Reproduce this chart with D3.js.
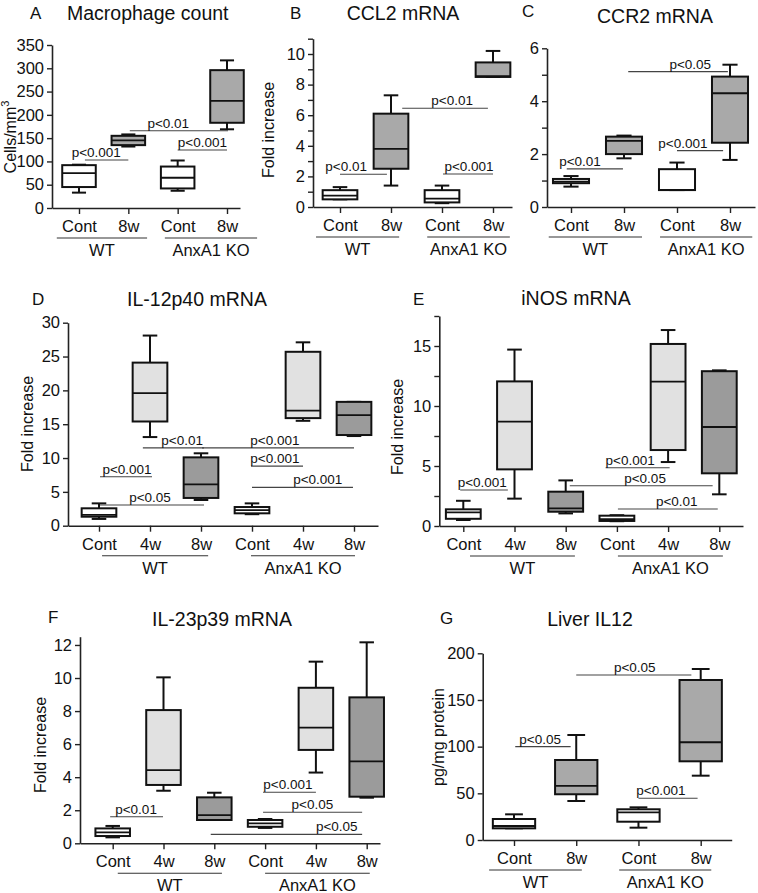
<!DOCTYPE html>
<html><head><meta charset="utf-8">
<script src="https://cdn.jsdelivr.net/npm/d3@7"></script>
<style>
body{margin:0;background:#fff}
svg{display:block}
text{font-family:"Liberation Sans",Arial,Helvetica,sans-serif;fill:#111}
</style>
</head><body>
<svg id="chart" width="758" height="893"></svg>
<script>
// ---------- categories ----------
const cats4 = ["Cont", "8w", "Cont", "8w"];
const cats6 = ["Cont", "4w", "8w", "Cont", "4w", "8w"];
const genotypes = ["WT", "AnxA1 KO"];

// ---------- box values: [min, q1, median, q3, max] ----------
const macrophageCount = [[33,45,75,92,93],[132,135,145,155,158],[37,42,65,89,102],[169,183,230,296,317]];
const ccl2 = [[0.5,0.5,0.75,1.1,1.3],[1.4,2.5,3.8,6.1,7.3],[0.25,0.3,0.55,1.1,1.4],[8.5,8.5,8.55,9.45,10.2]];
const ccr2 = [[0.77,0.9,0.96,1.06,1.17],[1.84,2.0,2.5,2.66,2.7],[0.64,0.64,0.65,1.43,1.68],[1.78,2.43,4.3,4.93,5.38]];
const il12p40 = [[1.0,1.33,1.6,2.57,3.3],[13.1,15.4,19.6,24.1,28.1],[3.8,4.1,6.1,10.1,10.7],[1.7,1.83,2.3,2.76,3.3],[15.5,15.9,17.0,25.7,27.1],[13.25,13.4,16.35,18.3,18.3]];
const inos = [[0.5,0.6,1.14,1.39,2.1],[2.28,4.72,8.7,12.05,14.7],[1.05,1.19,1.47,2.86,3.8],[0.4,0.42,0.58,0.86,0.9],[5.33,6.33,12.03,15.17,16.33],[2.64,4.39,8.25,12.9,12.97]];
const il23p39 = [[0.36,0.44,0.66,0.9,1.05],[3.18,3.53,4.43,8.06,10.04],[1.41,1.41,1.71,2.78,3.06],[0.93,1.0,1.21,1.41,1.47],[4.28,5.65,7.0,9.41,10.99],[2.76,2.82,4.96,8.83,12.16]];
const liverIL12 = [[12.5,12.5,15,22.5,27.5],[41.8,49,58,85.7,112.5],[13.2,19.6,29.7,32.9,35],[68.9,84.3,104.7,171.4,183.2]];

// ---------- significance annotations: [fromCat, toCat, value, label, textCat] ----------
const sigA = [[0.12,1.0,103,"p<0.001",0.35],[1.03,3.02,166,"p<0.01",1.81],[2.0,3.0,124.5,"p<0.001",2.5]];
const sigB = [[0,0.92,2.14,"p<0.01",0.12],[1.22,2.9,6.45,"p<0.01",2.2],[2.02,3.0,2.16,"p<0.001",2.53]];
const sigC = [[-0.08,0.98,1.44,"p<0.01",0.17],[1.08,2.96,5.12,"p<0.05",2.25],[2.0,2.87,2.13,"p<0.001",2.11]];
const sigD = [[0.02,1.04,7.24,"p<0.001",0.55],[0.02,2.06,3.06,"p<0.05",1.0],[0.86,2.06,11.5,"p<0.01",1.63],[2.02,5.0,11.5,"p<0.001",3.45],[2.98,4.0,8.8,"p<0.001",3.45],[3.0,4.98,5.67,"p<0.001",4.29]];
const sigE = [[-0.06,0.87,3.0,"p<0.001",0.37],[2.78,4.03,4.86,"p<0.001",3.26],[2.08,4.87,3.36,"p<0.05",3.55],[3.02,4.97,1.42,"p<0.01",4.17]];
const sigF = [[-0.05,0.99,1.61,"p<0.01",0.46],[2.96,4.0,3.09,"p<0.001",3.45],[2.96,4.91,1.88,"p<0.05",3.93],[1.93,4.91,0.54,"p<0.05",4.41]];
const sigG = [[0.02,0.91,100,"p<0.05",0.42],[1.0,2.85,176.8,"p<0.05",1.94],[2.0,2.95,44.7,"p<0.001",2.36]];

// ---------- tick values ----------
const ticksA = [0,50,100,150,200,250,300,350];
const ticksB = [0,2,4,6,8,10], minorB = [1,3,5,7,9,11];
const ticksC = [0,2,4,6], minorC = [1,3,5];
const ticksD = [0,5,10,15,20,25,30];
const ticksE = [0,5,10,15], minorE = [2.5,7.5,12.5,17.5];
const ticksF = [0,2,4,6,8,10,12];
const ticksG = [0,50,100,150,200];

// ---------- styles ----------
const fill4 = ["#ffffff","#a9a9a9","#ffffff","#a9a9a9"];
const fill6 = ["#ffffff","#e1e1e1","#9b9b9b","#ffffff","#e1e1e1","#9b9b9b"];

const svg = d3.select("#chart");
const FONT = '"Liberation Sans",Arial,Helvetica,sans-serif';

const panels = [
  {letter:"A", title:"Macrophage count", data:macrophageCount, cats:cats4, fills:fill4, sig:sigA, ticks:ticksA, minor:[],
   yMax:350, axisX:52, xEnd:240, y0:208, yTop:45, cx0:79, cx1:227, groups:[[-0.45,1.38],[1.74,3.61]],
   lx:30, ly:19, tx:67, tAnchor:"start", ty:20, ylab:"Cells/mm", sup:"3", ylx:10, yly:137},
  {letter:"B", title:"CCL2 mRNA", data:ccl2, cats:cats4, fills:fill4, sig:sigB, ticks:ticksB, minor:minorB,
   yMax:11, axisX:313, xEnd:512, y0:207, yTop:38.7, cx0:340, cx1:493, groups:[[-0.47,1.16],[1.71,3.33]],
   lx:290, ly:19, tx:403, tAnchor:"middle", ty:20, ylab:"Fold increase", ylx:268, yly:130},
  {letter:"C", title:"CCR2 mRNA", data:ccr2, cats:cats4, fills:fill4, sig:sigC, ticks:ticksC, minor:minorC,
   yMax:6, axisX:547, xEnd:755, y0:207, yTop:48.3, cx0:571, cx1:730, groups:[[-0.42,1.34],[1.68,3.42]],
   lx:522, ly:17, tx:655, tAnchor:"middle", ty:23, ylab:null},
  {letter:"D", title:"IL-12p40 mRNA", data:il12p40, cats:cats6, fills:fill6, sig:sigD, ticks:ticksD, minor:[],
   yMax:30, axisX:68, xEnd:378, y0:525.7, yTop:322.7, cx0:99, cx1:354, groups:[[0.06,2.14],[2.98,5.02]],
   lx:32, ly:305, tx:197, tAnchor:"middle", ty:306, ylab:"Fold increase", ylx:27, yly:424},
  {letter:"E", title:"iNOS mRNA", data:inos, cats:cats6, fills:fill6, sig:sigE, ticks:ticksE, minor:minorE,
   yMax:17.5, axisX:439.3, xEnd:743, y0:526, yTop:316, cx0:463.3, cx1:719.3, groups:[[0.13,2.18],[3.02,5.07]],
   lx:413, ly:305, tx:576, tAnchor:"middle", ty:305, ylab:"Fold increase", ylx:397, yly:427},
  {letter:"F", title:"IL-23p39 mRNA", data:il23p39, cats:cats6, fills:fill6, sig:sigF, ticks:ticksF, minor:[],
   yMax:12.5, axisX:80, xEnd:380, y0:843.3, yTop:636.7, cx0:112.7, cx1:366.7, groups:[[0.1,2.15],[3.0,5.06]],
   lx:48, ly:623, tx:222, tAnchor:"middle", ty:626, ylab:"Fold increase", ylx:40, yly:745},
  {letter:"G", title:"Liver IL12", data:liverIL12, cats:cats4, fills:fill4, sig:sigG, ticks:ticksG, minor:[],
   yMax:200, axisX:482.7, xEnd:731.7, y0:840, yTop:653.3, cx0:514, cx1:700.7, groups:[[-0.4,1.09],[1.69,3.17]],
   lx:440, ly:624, tx:590, tAnchor:"middle", ty:626, ylab:"pg/mg protein", ylx:438, yly:737}
];

function drawPanel(p) {
  const g = svg.append("g");
  const y = d3.scaleLinear().domain([0, p.yMax]).range([p.y0, p.yTop]);
  const x = d3.scaleLinear().domain([0, p.cats.length - 1]).range([p.cx0, p.cx1]);
  const step = x(1) - x(0);
  const bw = step * 0.68;
  const capW = bw * 0.42;

  // Y axis
  const allTicks = p.ticks.concat(p.minor).sort((a, b) => a - b);
  const yAxis = d3.axisLeft(y).tickValues(allTicks).tickSize(5).tickSizeOuter(0).tickPadding(3)
    .tickFormat(d => p.ticks.includes(d) ? d3.format("d")(d) : "");
  const ya = g.append("g").attr("transform", `translate(${p.axisX},0)`).call(yAxis);
  ya.select(".domain").attr("stroke", "#222").attr("stroke-width", 1.6);
  ya.selectAll(".tick line").attr("stroke", "#222").attr("stroke-width", 1.4);
  ya.selectAll(".tick text").attr("font-family", FONT).attr("font-size", 16.5).attr("fill", "#111");

  // X axis
  const xa = d3.scaleLinear().domain([x.invert(p.axisX), x.invert(p.xEnd)]).range([p.axisX, p.xEnd]);
  const xAxis = d3.axisBottom(xa).tickValues(d3.range(p.cats.length)).tickSize(6).tickSizeOuter(0)
    .tickPadding(7).tickFormat(i => p.cats[i]);
  const xg = g.append("g").attr("transform", `translate(0,${p.y0})`).call(xAxis);
  xg.select(".domain").attr("stroke", "#222").attr("stroke-width", 1.6);
  xg.selectAll(".tick line").attr("stroke", "#222").attr("stroke-width", 1.4);
  xg.selectAll(".tick text").attr("font-family", FONT).attr("font-size", 16.5).attr("fill", "#111")
    .attr("dy", null).attr("y", 24);

  // group lines and labels
  p.groups.forEach((gr, k) => {
    g.append("line").attr("x1", x(gr[0])).attr("x2", x(gr[1]))
      .attr("y1", p.y0 + 30).attr("y2", p.y0 + 30).attr("stroke", "#333").attr("stroke-width", 1.1);
    g.append("text").attr("x", (x(gr[0]) + x(gr[1])) / 2).attr("y", p.y0 + 48)
      .attr("text-anchor", "middle").attr("font-size", 16.5).text(genotypes[k]);
  });

  // boxes
  const bx = g.selectAll("g.box").data(p.data).join("g").attr("class", "box");
  bx.append("line").attr("x1", (d, i) => x(i)).attr("x2", (d, i) => x(i))
    .attr("y1", d => y(d[0])).attr("y2", d => y(d[4])).attr("stroke", "#111").attr("stroke-width", 2);
  bx.append("line").attr("x1", (d, i) => x(i) - capW / 2).attr("x2", (d, i) => x(i) + capW / 2)
    .attr("y1", d => y(d[4])).attr("y2", d => y(d[4])).attr("stroke", "#111").attr("stroke-width", 2);
  bx.append("line").attr("x1", (d, i) => x(i) - capW / 2).attr("x2", (d, i) => x(i) + capW / 2)
    .attr("y1", d => y(d[0])).attr("y2", d => y(d[0])).attr("stroke", "#111").attr("stroke-width", 2);
  bx.append("rect").attr("x", (d, i) => x(i) - bw / 2).attr("width", bw)
    .attr("y", d => y(d[3])).attr("height", d => Math.max(1, y(d[1]) - y(d[3])))
    .attr("fill", (d, i) => p.fills[i]).attr("stroke", "#111").attr("stroke-width", 2);
  bx.append("line").attr("x1", (d, i) => x(i) - bw / 2).attr("x2", (d, i) => x(i) + bw / 2)
    .attr("y1", d => y(d[2])).attr("y2", d => y(d[2])).attr("stroke", "#111").attr("stroke-width", 1.8);

  // significance
  p.sig.forEach(s => {
    g.append("line").attr("x1", x(s[0])).attr("x2", x(s[1])).attr("y1", y(s[2])).attr("y2", y(s[2]))
      .attr("stroke", "#444").attr("stroke-width", 1.1);
    g.append("text").attr("x", x(s[4])).attr("y", y(s[2]) - 3).attr("text-anchor", "middle")
      .attr("font-size", 13.5).attr("fill", "#222").text(s[3]);
  });

  // titles
  g.append("text").attr("x", p.lx).attr("y", p.ly).attr("font-size", 17).text(p.letter);
  g.append("text").attr("x", p.tx).attr("y", p.ty).attr("text-anchor", p.tAnchor).attr("font-size", 19.5).text(p.title);

  // y label
  if (p.ylab) {
    const t = g.append("text").attr("transform", `translate(${p.ylx},${p.yly}) rotate(-90)`)
      .attr("text-anchor", "middle").attr("dy", "0.35em").attr("font-size", 16).text(p.ylab);
    if (p.sup) t.append("tspan").attr("font-size", 11).attr("dy", "-0.6em").text(p.sup);
  }
}

panels.forEach(drawPanel);
</script>
</body></html>
